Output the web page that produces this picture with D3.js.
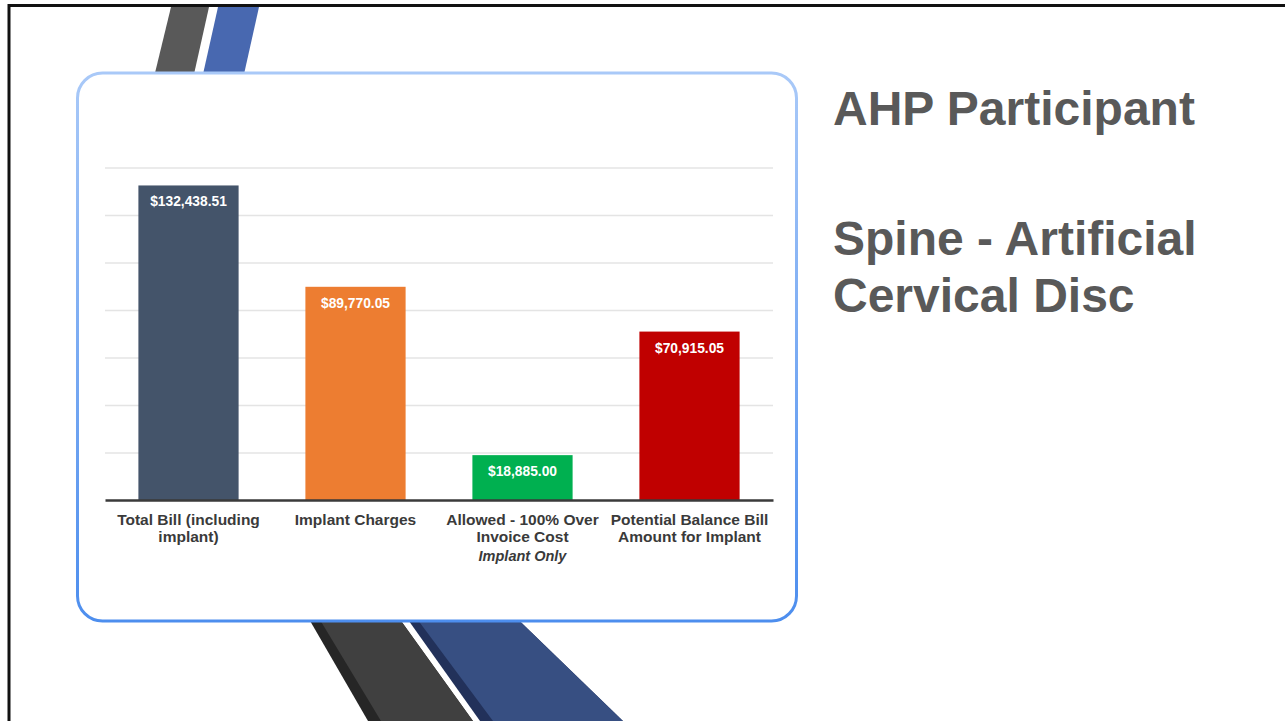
<!DOCTYPE html>
<html>
<head>
<meta charset="utf-8">
<script src="https://cdn.jsdelivr.net/npm/d3@7"></script>
<style>
  body { margin: 0; background: #fff; }
  svg { display: block; font-family: "Liberation Sans", Arial, sans-serif; }
  .grid line { stroke: #e4e4e4; stroke-width: 1.5; }
  .grid .domain { display: none; }
  .axis-x .domain { stroke: #3a3a3a; stroke-width: 2.5; }
  .cat-label { font-size: 15.5px; font-weight: bold; fill: #3a3a3a; }
  .val-label { font-size: 13.8px; font-weight: bold; fill: #fff; }
  .title { font-size: 48px; font-weight: bold; fill: #595959; }
</style>
</head>
<body>
<svg width="1285" height="721"></svg>
<script>
// datos del grafico
const categories = ["Total Bill (including implant)", "Implant Charges", "Allowed - 100% Over Invoice Cost", "Potential Balance Bill Amount for Implant"];
const labelLines = [["Total Bill (including", "implant)"], ["Implant Charges"], ["Allowed - 100% Over", "Invoice Cost"], ["Potential Balance Bill", "Amount for Implant"]];
const subLabels = ["", "", "Implant Only", ""];
const values = [132438.51, 89770.05, 18885.00, 70915.05];
const valueLabels = ["$132,438.51", "$89,770.05", "$18,885.00", "$70,915.05"];
const barColors = ["#44546a", "#ed7d31", "#00b050", "#c00000"];
const yTicks = [0, 20000, 40000, 60000, 80000, 100000, 120000, 140000];
const titleLines = ["AHP Participant", "", "Spine - Artificial", "Cervical Disc"];

const svg = d3.select("svg");

// gradiente del borde de la tarjeta
const defs = svg.append("defs");
const grad = defs.append("linearGradient")
    .attr("id", "cardStroke")
    .attr("x1", 0).attr("y1", 0).attr("x2", 0).attr("y2", 1);
grad.append("stop").attr("offset", "0%").attr("stop-color", "#a9c9f8");
grad.append("stop").attr("offset", "100%").attr("stop-color", "#4d8eee");

// marco de la diapositiva
svg.append("line").attr("x1", 9).attr("y1", 5.5).attr("x2", 1285).attr("y2", 5.5)
    .attr("stroke", "#111").attr("stroke-width", 3);
svg.append("line").attr("x1", 9).attr("y1", 4).attr("x2", 9).attr("y2", 721)
    .attr("stroke", "#111").attr("stroke-width", 3);

// franjas decorativas
const deco = svg.append("g");
const poly = (pts, fill) => deco.append("polygon")
    .attr("points", pts.map(p => p.join(",")).join(" "))
    .attr("fill", fill);

poly([[171, 7], [209, 7], [186, 110], [146, 110]], "#595959");
poly([[218, 7], [259, 7], [236, 110], [195, 110]], "#4868b0");

poly([[298, 600], [386, 600], [473, 721], [368, 721]], "#262626");
poly([[308, 600], [386, 600], [473, 721], [381, 721]], "#404040");
poly([[394, 600], [498, 600], [623, 721], [480, 721]], "#22315a");
poly([[403, 600], [498, 600], [623, 721], [493, 721]], "#374f82");

// tarjeta
svg.append("rect")
    .attr("x", 77.5).attr("y", 73)
    .attr("width", 719).attr("height", 548)
    .attr("rx", 25).attr("ry", 25)
    .attr("fill", "#fff")
    .attr("stroke", "url(#cardStroke)")
    .attr("stroke-width", 3);

// escalas
const x = d3.scaleBand()
    .domain(categories)
    .range([105, 773])
    .paddingInner(0.4)
    .paddingOuter(0.2);

const y = d3.scaleLinear()
    .domain([0, d3.max(yTicks)])
    .range([500, 167.5]);

const g = svg.append("g");

// lineas de cuadricula
g.append("g")
    .attr("class", "grid")
    .attr("transform", "translate(105,0)")
    .call(d3.axisLeft(y).tickValues(yTicks.slice(1)).tickSize(-668).tickFormat(""));

// barras
g.selectAll(".bar")
    .data(values)
    .enter()
    .append("rect")
    .attr("class", "bar")
    .attr("x", (d, i) => x(categories[i]))
    .attr("y", d => y(d))
    .attr("width", x.bandwidth())
    .attr("height", d => y(0) - y(d))
    .attr("fill", (d, i) => barColors[i]);

// etiquetas de valor
g.selectAll(".val-label")
    .data(values)
    .enter()
    .append("text")
    .attr("class", "val-label")
    .attr("text-anchor", "middle")
    .attr("x", (d, i) => x(categories[i]) + x.bandwidth() / 2)
    .attr("y", d => y(d) + 21)
    .text((d, i) => valueLabels[i]);

// eje X
g.append("g")
    .attr("class", "axis-x")
    .attr("transform", "translate(0," + y(0) + ")")
    .call(d3.axisBottom(x).tickSize(0).tickSizeOuter(0).tickFormat(""));

const labels = g.selectAll(".cat-label")
    .data(categories)
    .enter()
    .append("text")
    .attr("class", "cat-label")
    .attr("text-anchor", "middle")
    .attr("x", d => x(d) + x.bandwidth() / 2)
    .attr("y", 525);

labels.each(function (d, i) {
    const t = d3.select(this);
    labelLines[i].forEach((line, j) => {
        t.append("tspan")
            .attr("x", x(d) + x.bandwidth() / 2)
            .attr("dy", j === 0 ? 0 : 17)
            .text(line);
    });
    if (subLabels[i]) {
        t.append("tspan")
            .attr("x", x(d) + x.bandwidth() / 2)
            .attr("dy", 19)
            .style("font-style", "italic")
            .style("font-size", "14.5px")
            .text(subLabels[i]);
    }
});

// titulo
const title = svg.append("text")
    .attr("class", "title")
    .attr("x", 833)
    .attr("y", 125);

titleLines.forEach((line, i) => {
    title.append("tspan")
        .attr("x", 833)
        .attr("dy", i === 0 ? 0 : (i === 2 ? 73 : 57))
        .text(line || " ");
});
</script>
</body>
</html>
